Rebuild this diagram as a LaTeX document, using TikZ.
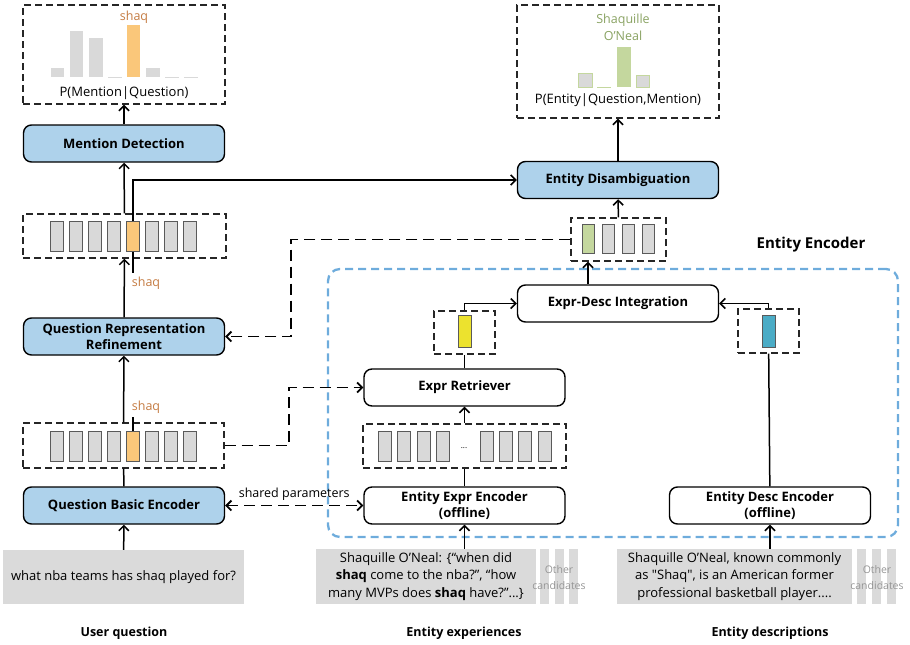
\documentclass[tikz,border=0pt]{standalone}
\usepackage{fontspec}
\setmainfont{Open Sans}[Ligatures=TeXOff]
\usetikzlibrary{arrows.meta}
\definecolor{modblue}{RGB}{174,210,235}
\definecolor{cellgray}{RGB}{217,217,217}
\definecolor{cellline}{RGB}{90,90,90}
\definecolor{qorange}{RGB}{250,199,122}
\definecolor{qtag}{RGB}{196,123,66}
\definecolor{egreen}{RGB}{196,215,158}
\definecolor{etag}{RGB}{137,162,98}
\definecolor{eyellow}{RGB}{236,226,46}
\definecolor{eblue}{RGB}{75,172,198}
\definecolor{frameblue}{RGB}{110,172,220}
\definecolor{txtgray}{RGB}{218,218,218}
\definecolor{othergray}{RGB}{150,150,150}
\tikzset{
  barb/.tip={Straight Barb[length=5pt,width=10pt]},
  module/.style={draw, rounded corners=8pt, line width=1.4pt, fill=modblue,
    minimum width=201pt, minimum height=37pt, align=center, inner sep=1pt,
    font=\bfseries\fontsize{13}{16}\selectfont},
  offmod/.style={module, fill=white},
  vecbox/.style={draw=black!85, line width=1.4pt, dash pattern=on 7pt off 4pt, inner sep=0pt},
  cell/.style={draw=cellline, line width=0.9pt, fill=cellgray, minimum width=13pt,
    minimum height=30pt, inner sep=0pt},
  textbox/.style={fill=txtgray, align=center, inner sep=0pt, font=\fontsize{13}{17.5}\selectfont},
  strip/.style={fill=txtgray, minimum width=9pt, minimum height=55pt, inner sep=0pt},
  other/.style={text=othergray, align=center, font=\fontsize{10.5}{16}\selectfont},
  caption/.style={font=\bfseries\fontsize{12.5}{15}\selectfont},
  tag/.style={text=qtag, font=\fontsize{12.5}{14}\selectfont},
  arr/.style={line width=1.5pt, -barb},
  darr/.style={arr, line width=1.8pt, dash pattern=on 11pt off 6pt},
}
\begin{document}
\begin{tikzpicture}[x=1pt,y=-1pt]
  \useasboundingbox (0,0) rectangle (910,645);

  % encoder frame
  \node[draw=frameblue, line width=2.3pt, dash pattern=on 8pt off 5pt, rounded corners=12pt,
    minimum width=570pt, minimum height=268pt] (enc) at (613,403) {};
  \node[font=\bfseries\fontsize{15}{18}\selectfont] (enclab) at (811,245) {Entity Encoder};

  % question side
  \node[vecbox, minimum width=202pt, minimum height=99pt] (pmq) at (124,54.5) {};
  \node[module] (md) at (124,143.5) {Mention Detection};
  \node[vecbox, minimum width=203pt, minimum height=44pt] (qvb) at (124.5,236) {};
  \node[module] (qrr) at (124,336.5) {Question Representation\\Refinement};
  \node[vecbox, minimum width=201pt, minimum height=45pt] (qva) at (123.5,445.5) {};
  \node[module] (qbe) at (124,505.5) {Question Basic Encoder};
  \node[textbox, minimum width=241pt, minimum height=54pt] (qtext) at (123.5,577)
    {what nba teams has shaq played for?};
  \node[caption] (capq) at (124,633) {User question};

  \draw
    (56.5,236.5) node[cell] (qb1){}
    (75.5,236.5) node[cell] (qb2){}
    (94.5,236.5) node[cell] (qb3){}
    (113.5,236.5) node[cell] (qb4){}
    (133,236.5) node[cell, fill=qorange] (qb5){}
    (152,236.5) node[cell] (qb6){}
    (170.5,236.5) node[cell] (qb7){}
    (189.5,236.5) node[cell] (qb8){};
  \draw
    (56.5,446) node[cell] (qa1){}
    (75.5,446) node[cell] (qa2){}
    (94.5,446) node[cell] (qa3){}
    (113.5,446) node[cell] (qa4){}
    (133,446) node[cell, fill=qorange] (qa5){}
    (152,446) node[cell] (qa6){}
    (170.5,446) node[cell] (qa7){}
    (189.5,446) node[cell] (qa8){};
  \node[tag] (tagb) at (146,283) {shaq};
  \node[tag] (taga) at (146,407) {shaq};

  % mention distribution
  \fill[cellgray] (51,68) rectangle (64,77);
  \fill[cellgray] (70,31) rectangle (83,77);
  \fill[cellgray] (89,38) rectangle (103,77);
  \fill[qorange] (127,25) rectangle (140,77);
  \fill[cellgray] (146,68) rectangle (160,77);
  \draw[cellgray, line width=1pt] (108,77) -- (122,77) (165,77) -- (179,77) (184,77) -- (198,77);
  \node[tag] (tagm) at (134,17) {shaq};
  \node[font=\fontsize{13}{15}\selectfont] (pmqlab) at (124,93) {P(Mention|Question)};

  % entity side
  \node[vecbox, minimum width=202pt, minimum height=113pt] (pe) at (618,61.5) {};
  \node[module] (ed) at (618,180) {Entity Disambiguation};
  \node[vecbox, minimum width=95pt, minimum height=43pt] (evec) at (618.5,239.5) {};
  \node[offmod] (edi) at (618,303.5) {Expr-Desc Integration};
  \node[vecbox, minimum width=61pt, minimum height=43pt] (yvec) at (464.5,332.5) {};
  \node[vecbox, minimum width=61pt, minimum height=44pt] (bvec) at (768.5,331) {};
  \node[offmod] (er) at (464.5,387.5) {Expr Retriever};
  \node[vecbox, minimum width=203pt, minimum height=44pt] (xvec) at (464.5,446) {};
  \node[offmod] (eee) at (464.5,505.5) {Entity Expr Encoder\\(offline)};
  \node[offmod] (ede) at (770,505.5) {Entity Desc Encoder\\(offline)};

  \draw
    (588,238.5) node[cell, fill=egreen, minimum width=12pt, minimum height=29pt] (ec1){}
    (608,238.5) node[cell, minimum width=12pt, minimum height=29pt] (ec2){}
    (628,238.5) node[cell, minimum width=12pt, minimum height=29pt] (ec3){}
    (648,238.5) node[cell, minimum width=12pt, minimum height=29pt] (ec4){};
  \draw
    (464.5,331) node[cell, fill=eyellow, minimum height=32pt] (yc){}
    (768.5,331) node[cell, fill=eblue, minimum height=32pt] (bc){};
  \draw
    (385,446) node[cell] (x1){}
    (404,446) node[cell] (x2){}
    (423.5,446) node[cell] (x3){}
    (442.5,446) node[cell] (x4){}
    (464,448) node[font=\fontsize{8}{8}\selectfont] (xdots){...}
    (486.5,446) node[cell] (x5){}
    (505.5,446) node[cell] (x6){}
    (524.5,446) node[cell] (x7){}
    (544.5,446) node[cell] (x8){};

  % entity distribution
  \filldraw[fill=cellgray, draw=egreen, line width=1pt] (578,73) rectangle (592,87);
  \draw[egreen, line width=1pt] (597,87) -- (611,87);
  \fill[egreen] (617,47) rectangle (631,87);
  \filldraw[fill=cellgray, draw=egreen, line width=1pt] (636,75) rectangle (649,87);
  \node[text=etag, align=center, font=\fontsize{12.5}{17}\selectfont] (etagn) at (623,27)
    {Shaquille\\O’Neal};
  \node[font=\fontsize{13}{15}\selectfont] (pelab) at (618,100) {P(Entity|Question,Mention)};

  % inputs
  \node[textbox, minimum width=220pt, minimum height=55pt] (xtext) at (426,576.5)
    {Shaquille O’Neal: \{“when did\\\textbf{shaq} come to the nba?”, “how\\many MVPs does \textbf{shaq} have?”...\}};
  \node[strip] (xs1) at (544.5,576.5) {};
  \node[strip] (xs2) at (559,576.5) {};
  \node[strip] (xs3) at (573,576.5) {};
  \node[other] (xoth) at (559,578) {Other\\candidates};
  \node[caption] (capx) at (464,633) {Entity experiences};

  \node[textbox, minimum width=235pt, minimum height=55pt] (dtext) at (734.5,576.5)
    {Shaquille O’Neal, known commonly\\as "Shaq", is an American former\\professional basketball player....};
  \node[strip] (ds1) at (861.5,576.5) {};
  \node[strip] (ds2) at (876.5,576.5) {};
  \node[strip] (ds3) at (891,576.5) {};
  \node[other] (doth) at (877,578) {Other\\candidates};
  \node[caption] (capd) at (770,633) {Entity descriptions};

  \begin{scope}[arr]
    \draw (md) to (pmq);
    \draw (qvb) to (md);
    \draw (qb5.north) |- (ed.west);
    \draw (qrr) to (qvb);
    \draw (qva) to (qrr);
    \draw (qtext) to (qbe);
    \draw (ed) to (pe);
    \draw (evec) to (ed);
    \draw (ec1 |- edi.north) to (ec1 |- evec.south);
    \draw (yvec.north) |- (edi.west);
    \draw (bvec.north) |- (edi.east);
    \draw (xvec) to (er);
    \draw (eee.south |- xtext.north) to (eee.south);
    \draw (ede.south |- dtext.north) to (ede.south);
  \end{scope}
  \begin{scope}[line width=1.5pt]
    \draw (qbe) to (qva);
    \draw (er) to (yvec);
    \draw (eee) to (xvec);
    \draw (ede) to (bvec);
    \draw (qb5.south) to (qb5.south |- tagb.north);
    \draw (qa5.north) to (qa5.north |- taga.south);
  \end{scope}
  \begin{scope}[darr]
    \draw (evec.west) -- ++(-279,0) |- (qrr.east);
    \draw (qva.east) -- ++(64,0) |- (er.west);
    \draw[barb-barb] (qbe) to node[above=1pt, font=\fontsize{12.5}{14}\selectfont] (shared) {shared parameters} (eee);
  \end{scope}
\end{tikzpicture}
\end{document}
